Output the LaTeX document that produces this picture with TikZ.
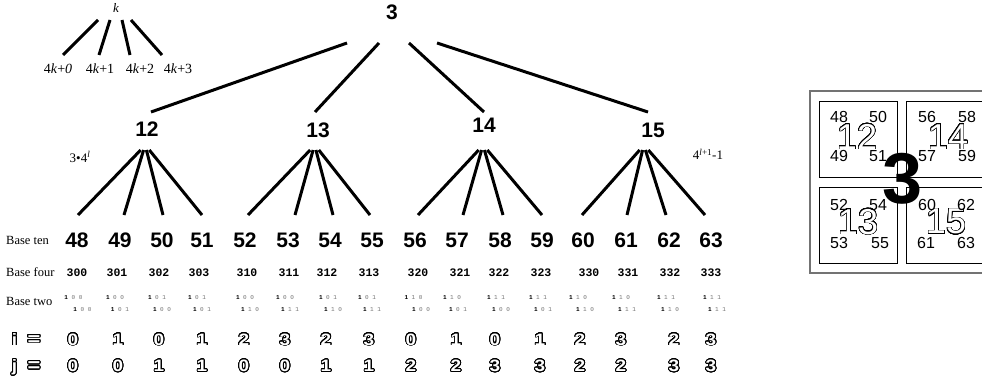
\documentclass[tikz,border=0pt]{standalone}
\usepackage{fontspec}
\setmainfont{Liberation Serif}
\newfontfamily\hv{Liberation Sans}
\newfontfamily\cour{Liberation Mono}
\usepackage{contour}
\contournumber{32}
\newcommand\fs[1]{\fontsize{#1}{#1}\selectfont}
\newcommand\hol[1]{\contourlength{0.8pt}\scalebox{1.15}[1]{\contour{black}{#1}}}
\tikzset{
  num/.style={font=\hv\bfseries\fs{21}, anchor=base, inner sep=0pt},
  edge/.style={line width=3pt},
  serif/.style={font=\fs{13}, anchor=base, inner sep=0pt},
  minilabel/.style={font=\fs{14}, anchor=base, inner sep=0pt},
  rowlabel/.style={font=\fs{12.5}, anchor=base west, inner sep=0pt},
  fourstyle/.style={font=\cour\bfseries\fs{11.5}, anchor=base, inner sep=0pt},
  twostyle/.style={font=\cour\fs{6}, anchor=base, inner sep=0pt},
  hollow/.style={font=\hv\bfseries\fs{16.5}, text=white, anchor=base, inner sep=0pt},
  boxnum/.style={font=\hv\fs{16}, anchor=center, inner sep=0pt},
  bighollow/.style={font=\hv\fs{36}, text=white, anchor=center, inner sep=0pt},
  cell/.style={line width=0.9pt},
}
\begin{document}
\begin{tikzpicture}[x=1pt,y=-1pt]
\useasboundingbox (0,0) rectangle (982,385);
\clip (0,0) rectangle (982,385);

% mini tree (legend)
\node[serif] (mk) at (116,13) {\textit{k}};
\foreach \i/\sx/\ex/\lx/\t in {0/98/63/58/{4\textit{k}+\textit{0}},1/110/99/100/{4\textit{k}+1},2/122/130/140/{4\textit{k}+2},3/131/162/178/{4\textit{k}+3}}{
  \coordinate (ms\i) at (\sx,20);
  \coordinate (me\i) at (\ex,55);
  \node[minilabel] (ml\i) at (\lx,74) {\t};
  \draw[edge] (ms\i) -- (me\i);
}

% formula labels
\node[serif] (lo) at (80,162) {3\textbullet 4\textsuperscript{\itshape l}};
\node[serif] (hi) at (708,160) {4\textsuperscript{\itshape l\upshape +1}-1};

% top tree
\node[num] (n3) at (392,19.5) {3};
\node[num] (n12) at (147,136.5) {12};
\node[num] (n13) at (318,137.5) {13};
\node[num] (n14) at (484,132.5) {14};
\node[num] (n15) at (653,137.5) {15};
\foreach \c/\sx/\ex in {12/347/151,13/379/315,14/409/484,15/437/648}{
  \coordinate (ts\c) at (\sx,43);
  \coordinate (te\c) at (\ex,112);
  \draw[edge] (ts\c) -- (te\c);
}

% base ten
\foreach \n/\x in {48/77,49/120,50/162,51/202,52/245,53/288,54/330,55/372,56/415,57/457,58/500,59/542,60/583,61/626,62/669,63/711}{
  \node[num] (b\n) at (\x,247.5) {\n};
}
\foreach \n/\sx/\ex in {48/140.7/78,49/143.6/124,50/146.4/163,51/149.3/202,52/310.2/248,53/313.1/295,54/315.9/333,55/318.8/370,56/478.7/418,57/481.6/463,58/484.4/503,59/487.3/542,60/639.7/582,61/642.6/627,62/645.4/666,63/648.3/705}{
  \coordinate (ls\n) at (\sx,150);
  \coordinate (le\n) at (\ex,215);
  \draw[edge] (ls\n) -- (le\n);
}

% row labels
\node[rowlabel] (rten) at (6,244) {Base ten};
\node[rowlabel] (rfour) at (6,276) {Base four};
\node[rowlabel] (rtwo) at (6,305) {Base two};

% base four
\foreach \t/\x in {300/77,301/117,302/159,303/199,310/247,311/289,312/327,313/369,320/418,321/460,322/499,323/541,330/589,331/628,332/670,333/711}{
  \node[fourstyle] (f\t) at (\x,276) {\t};
}

% base two
\foreach \n/\ta/\tb/\ba/\bb/\tx/\bx in {48/0/0/0/0/73.5/82.5,49/0/0/0/1/115/120,50/0/1/0/0/157/162,51/0/1/0/1/197/202,52/0/0/1/0/245/250,53/0/0/1/1/285/290,54/0/1/1/0/328/333,55/0/1/1/1/367/372,56/1/0/0/0/413.5/421,57/1/0/0/1/452/458,58/1/1/0/0/496/501,59/1/1/0/1/538/543,60/1/0/1/0/578/585,61/1/0/1/1/621/627,62/1/1/1/0/666/670,63/1/1/1/1/712/717}{
  \node[twostyle] (tt\n) at (\tx,299) {\textbf{1}\ \textcolor{black!55}{\ta\ \tb}};
  \node[twostyle] (tb\n) at (\bx,311) {\textbf{1}\ \textcolor{black!55}{\ba\ \bb}};
}

% i and j rows
\node[hollow] (il) at (14.5,345) {\hol{i}};
\node[hollow, font=\hv\bfseries\fs{19}] (ie) at (34,345) {\hol{=}};
\node[hollow] (jl) at (14.5,371.5) {\hol{j}};
\node[hollow, font=\hv\bfseries\fs{19}] (je) at (34,371.5) {\hol{=}};
\foreach \k/\x/\iv/\jv in {1/73/0/0,2/118/1/0,3/159/0/1,4/202/1/1,5/244/2/0,6/285/3/0,7/326/2/1,8/369/3/1,9/411/0/2,10/456/1/2,11/495/0/3,12/540/1/3,13/580/2/2,14/621/3/2,15/674/2/3,16/711/3/3}{
  \node[hollow] (iv\k) at (\x,345) {\hol{\iv}};
  \node[hollow] (jv\k) at (\x,371.5) {\hol{\jv}};
}

% quad box
\draw[black!55, line width=1.3pt] (995,91) -- (810,91) -- (810,273) -- (995,273);
\draw[cell] (819,101) rectangle (897,177);
\draw[cell] (906,101) rectangle (995,177);
\draw[cell] (819,187) rectangle (897,263);
\draw[cell] (906,187) rectangle (995,263);
\node[bighollow] (q12) at (857,137) {\contourlength{0.6pt}\contour{black}{12}};
\node[bighollow] (q14) at (948,137) {\contourlength{0.6pt}\contour{black}{14}};
\node[bighollow] (q13) at (858,222) {\contourlength{0.6pt}\contour{black}{13}};
\node[bighollow] (q15) at (946,222) {\contourlength{0.6pt}\contour{black}{15}};
\foreach \n/\x/\y in {48/839/117,50/878/117,49/839/156,51/878/156,56/927/117,58/967/117,57/927/156,59/967/156,52/839/205,54/878/205,53/839/243,55/880/243,60/927/205,62/966/205,61/926/243,63/966/243}{
  \node[boxnum] (q\n) at (\x,\y) {\n};
}
\node[font=\hv\bfseries\fs{72}, anchor=center, inner sep=0pt] (qbig) at (902.5,179) {3};
\end{tikzpicture}
\end{document}
